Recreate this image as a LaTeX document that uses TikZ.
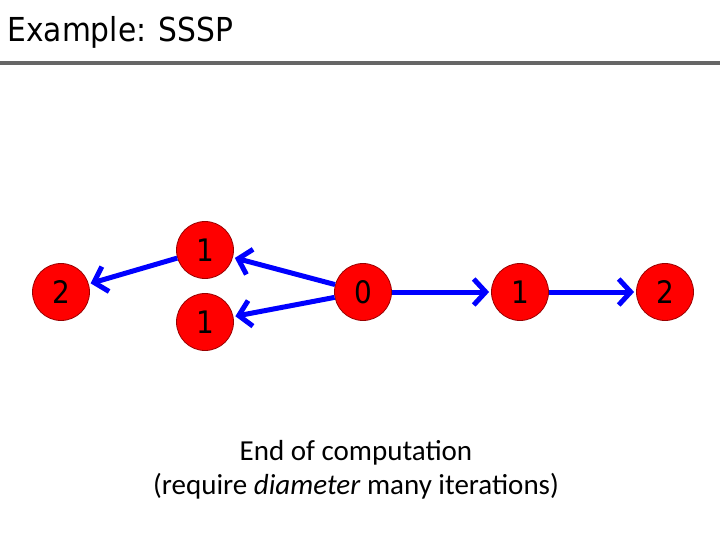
\documentclass[tikz,border=0pt]{standalone}
\usepackage{fontspec}
\setmainfont{Carlito}
\newfontfamily\tahfont{DejaVu Sans Condensed}
\usetikzlibrary{arrows.meta}
\begin{document}
\begin{tikzpicture}[x=1pt,y=-1pt,
  vert/.style={circle,fill=red,draw=red!60!black,line width=0.8pt,minimum size=57pt,inner sep=0pt,font=\tahfont\fontsize{31}{31}\selectfont},
  edge/.style={draw=blue,line width=5pt,-{Straight Barb[length=12pt,width=26pt,line width=5pt]},shorten >=2pt}]
\useasboundingbox (0,0) rectangle (720,540);
\node[anchor=west,font=\tahfont\fontsize{33}{33}\selectfont] (title) at (4,32) {Example: SSSP};
\draw[line width=4pt,gray!80!black] (0,63) -- (720,63);
\node[vert] (a) at (61,292) {2};
\node[vert] (b) at (205,250) {1};
\node[vert] (c) at (205,322) {1};
\node[vert] (s) at (363,292) {0};
\node[vert] (d) at (520,292) {1};
\node[vert] (e) at (665,292) {2};
\draw[edge] (b) -- (a);
\draw[edge] (s) -- (b);
\draw[edge] (s) -- (c);
\draw[edge] (s) -- (d);
\draw[edge] (d) -- (e);
\node[font=\fontsize{29}{29}\selectfont] (t1) at (356,453) {End of computation};
\node[font=\fontsize{29}{29}\selectfont] (t2) at (356,486) {(require \textit{diameter} many iterations)};
\end{tikzpicture}
\end{document}
